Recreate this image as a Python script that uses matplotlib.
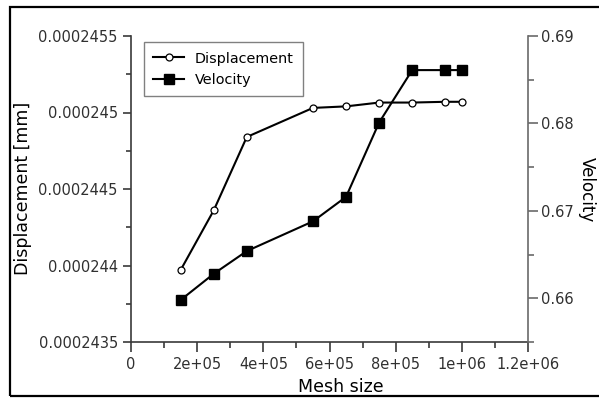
import numpy as np
import matplotlib
matplotlib.use("Agg")
import matplotlib.pyplot as plt
from matplotlib.ticker import MultipleLocator, FixedLocator, FixedFormatter
from matplotlib.patches import Rectangle

# mesh sizes used in the convergence study
mesh = [1.5e5, 2.5e5, 3.5e5, 5.5e5, 6.5e5, 7.5e5, 8.5e5, 9.5e5, 1.0e6]
displacement = [0.00024397, 0.00024436, 0.00024484, 0.00024503, 0.00024504,
                0.000245065, 0.000245065, 0.00024507, 0.00024507]
velocity = [0.6598, 0.6628, 0.6654, 0.6688, 0.6716, 0.6801, 0.6861, 0.6861, 0.6861]

x_ticks = [0, 2e5, 4e5, 6e5, 8e5, 1e6, 1.2e6]
x_labels = ['0', '2e+05', '4e+05', '6e+05', '8e+05', '1e+06', '1.2e+06']
disp_ticks = [0.0002435, 0.000244, 0.0002445, 0.000245, 0.0002455]
disp_labels = ['0.0002435', '0.000244', '0.0002445', '0.000245', '0.0002455']
vel_ticks = [0.66, 0.67, 0.68, 0.69]
vel_labels = ['0.66', '0.67', '0.68', '0.69']

plt.rcParams['font.family'] = 'DejaVu Sans'
spine_col = '#3a3a3a'
right_col = '#6a6a6a'
text_col = '#303030'

fig = plt.figure(figsize=(5.99, 3.98), dpi=100)
fig.patch.set_facecolor('white')
# outer frame, open on the right side (runs past the canvas)
fig.patches.append(Rectangle((10 / 599, 2 / 398), 1.3, 389 / 398, transform=fig.transFigure,
                             fill=False, edgecolor='black', linewidth=1.6))

ax = fig.add_axes([131 / 599, 56 / 398, 397 / 599, 306 / 398])
ax2 = ax.twinx()

l1, = ax.plot(mesh, displacement, color='black', lw=1.5, marker='o', ms=5,
              mfc='white', mec='black', mew=0.9, label='Displacement')
l2, = ax2.plot(mesh, velocity, color='black', lw=1.5, marker='s', ms=6.5,
               mfc='black', mec='black', label='Velocity')

ax.set_xlim(0, 1.2e6)
ax.set_ylim(0.0002435, 0.0002455)
ax2.set_ylim(0.655, 0.69)

ax.xaxis.set_major_locator(FixedLocator(x_ticks))
ax.xaxis.set_major_formatter(FixedFormatter(x_labels))
ax.xaxis.set_minor_locator(MultipleLocator(1e5))
ax.yaxis.set_major_locator(FixedLocator(disp_ticks))
ax.yaxis.set_major_formatter(FixedFormatter(disp_labels))
ax.yaxis.set_minor_locator(MultipleLocator(2.5e-7))
ax2.yaxis.set_major_locator(FixedLocator(vel_ticks))
ax2.yaxis.set_major_formatter(FixedFormatter(vel_labels))
ax2.yaxis.set_minor_locator(MultipleLocator(0.005))

for s in ['top', 'right']:
    ax.spines[s].set_visible(False)
for s in ['top', 'left', 'bottom']:
    ax2.spines[s].set_visible(False)
ax.spines['left'].set_color(spine_col)
ax.spines['bottom'].set_color(spine_col)
ax2.spines['right'].set_color(right_col)
for sp in [ax.spines['left'], ax.spines['bottom'], ax2.spines['right']]:
    sp.set_linewidth(1.2)

ax.tick_params(axis='x', which='major', direction='out', length=7, width=1.2,
               color=spine_col, labelsize=10.5, labelcolor=text_col, pad=4)
ax.tick_params(axis='x', which='minor', direction='out', length=4.3, width=1.2, color=spine_col)
ax.tick_params(axis='y', which='major', direction='out', length=6, width=1.2,
               color=spine_col, labelsize=10.5, labelcolor=text_col, pad=3.5)
ax.tick_params(axis='y', which='minor', direction='out', length=3.6, width=1.2, color=spine_col)
ax2.tick_params(axis='y', which='major', direction='out', length=7, width=1.2,
                color=right_col, labelsize=10.5, labelcolor=text_col, pad=2)
ax2.tick_params(axis='y', which='minor', direction='out', length=4.3, width=1.2, color=right_col)

fig.text(23 / 599, 1 - 188 / 398, 'Displacement [mm]', rotation=90, fontsize=12.5,
         ha='center', va='center')
fig.text(341 / 599, 1 - 387 / 398, 'Mesh size', fontsize=12.5, ha='center', va='center')
fig.text(587 / 599, 1 - 190 / 398, 'Velocity', rotation=270, fontsize=12,
         ha='center', va='center')

leg = ax2.legend([l1, l2], ['Displacement', 'Velocity'], loc='upper left',
                 bbox_to_anchor=(0.033, 0.98), borderaxespad=0, fontsize=10.4,
                 fancybox=False, framealpha=1, edgecolor='#808080',
                 handlelength=2.1, handletextpad=0.75, labelspacing=0.5,
                 borderpad=0.65)
leg.get_frame().set_linewidth(1.0)

fig.savefig('out.png', dpi=100)
